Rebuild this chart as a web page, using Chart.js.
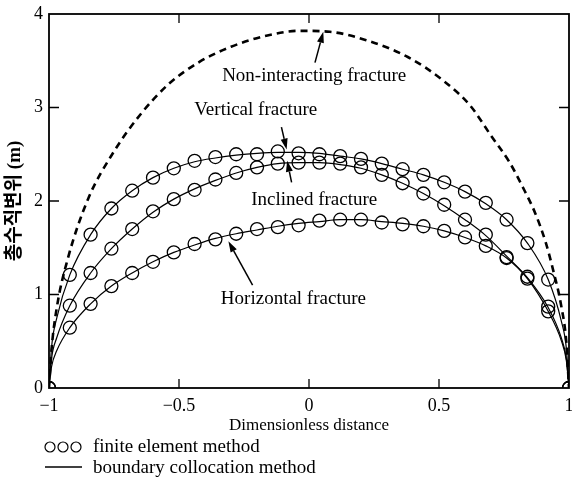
<!DOCTYPE html>
<html>
<head>
<meta charset="utf-8">
<script src="https://cdn.jsdelivr.net/npm/chart.js@4/dist/chart.umd.min.js"></script>
<style>
  html, body { margin: 0; padding: 0; background: #fff; }
</style>
</head>
<body>
<canvas id="myChart" width="572" height="480"></canvas>
<script>
// x positions of the finite element points
const femX = [-1, -0.92, -0.84, -0.76, -0.68, -0.60, -0.52, -0.44, -0.36, -0.28, -0.20, -0.12, -0.04,
              0.04, 0.12, 0.20, 0.28, 0.36, 0.44, 0.52, 0.60, 0.68, 0.76, 0.84, 0.92, 1];
const verticalFem   = [0, 1.21, 1.64, 1.92, 2.11, 2.25, 2.35, 2.43, 2.47, 2.50, 2.50, 2.53, 2.51,
                       2.50, 2.48, 2.45, 2.40, 2.34, 2.28, 2.20, 2.10, 1.98, 1.80, 1.55, 1.16, 0];
const inclinedFem   = [0, 0.88, 1.23, 1.49, 1.70, 1.89, 2.02, 2.12, 2.23, 2.30, 2.36, 2.40, 2.41,
                       2.41, 2.40, 2.36, 2.28, 2.19, 2.08, 1.96, 1.80, 1.64, 1.40, 1.19, 0.87, 0];
const horizontalFem = [0, 0.645, 0.90, 1.09, 1.23, 1.35, 1.45, 1.54, 1.59, 1.65, 1.70, 1.72, 1.74,
                       1.79, 1.80, 1.80, 1.77, 1.75, 1.73, 1.68, 1.61, 1.52, 1.39, 1.17, 0.82, 0];

// boundary collocation curves
const bcmX = [-1, -0.99, -0.97, -0.92, -0.84, -0.76, -0.68, -0.60, -0.52, -0.44, -0.36, -0.28, -0.20, -0.12, -0.04,
              0.04, 0.12, 0.20, 0.28, 0.36, 0.44, 0.52, 0.60, 0.68, 0.76, 0.84, 0.92, 0.97, 0.99, 1];
const verticalBcm   = [0, 0.44, 0.75, 1.21, 1.64, 1.92, 2.11, 2.25, 2.35, 2.42, 2.46, 2.49, 2.51, 2.52, 2.52,
                       2.51, 2.48, 2.45, 2.40, 2.34, 2.28, 2.20, 2.10, 1.97, 1.80, 1.55, 1.16, 0.72, 0.42, 0];
const inclinedBcm   = [0, 0.32, 0.54, 0.88, 1.23, 1.49, 1.70, 1.88, 2.02, 2.13, 2.22, 2.30, 2.36, 2.40, 2.41,
                       2.41, 2.39, 2.35, 2.28, 2.19, 2.08, 1.95, 1.80, 1.63, 1.41, 1.18, 0.86, 0.54, 0.31, 0];
const horizontalBcm = [0, 0.23, 0.40, 0.645, 0.90, 1.09, 1.23, 1.35, 1.45, 1.53, 1.60, 1.65, 1.69, 1.73, 1.76,
                       1.78, 1.80, 1.80, 1.78, 1.76, 1.73, 1.68, 1.61, 1.52, 1.39, 1.17, 0.82, 0.51, 0.29, 0];

// non-interacting fracture (dashed)
const nonX = [-1, -0.99, -0.97, -0.93, -0.85, -0.75, -0.65, -0.54, -0.42, -0.30, -0.16, -0.04, 0.08,
              0.22, 0.38, 0.52, 0.62, 0.70, 0.77, 0.82, 0.87, 0.91, 0.94, 0.97, 0.99, 1];
const nonVals = [0, 0.42, 0.86, 1.36, 2.02, 2.53, 2.92, 3.25, 3.49, 3.65, 3.77, 3.82, 3.81,
                 3.72, 3.54, 3.28, 3.02, 2.70, 2.42, 2.16, 1.87, 1.56, 1.25, 0.88, 0.48, 0];

const xTicks = [-1, -0.5, 0, 0.5, 1];
const yTicks = [0, 1, 2, 3, 4];

const notes = [
  { text: 'Non-interacting fracture', x: 0.02, y: 3.34 },
  { text: 'Vertical fracture', x: -0.205, y: 2.97 },
  { text: 'Inclined fracture', x: 0.02, y: 2.01 },
  { text: 'Horizontal fracture', x: -0.06, y: 0.95 }
];
const arrows = [
  { x1: 0.023, y1: 3.48, x2: 0.055, y2: 3.81 },
  { x1: -0.106, y1: 2.79, x2: -0.086, y2: 2.55 },
  { x1: -0.067, y1: 2.20, x2: -0.084, y2: 2.43 },
  { x1: -0.217, y1: 1.10, x2: -0.31, y2: 1.57 }
];

const serif = "'Liberation Serif', 'Times New Roman', serif";
const pts = (xs, ys) => xs.map((v, i) => ({ x: v, y: ys[i] }));
const fmt = v => (v < 0 ? '\u2212' + Math.abs(v) : String(v));

const lineSet = (data) => ({
  data: data, showLine: true, borderColor: '#000', borderWidth: 1.2,
  pointRadius: 0, cubicInterpolationMode: 'monotone', fill: false
});
const femSet = (data) => ({
  data: data, showLine: false, pointRadius: 6.5, pointBorderWidth: 1.3,
  pointBorderColor: '#000', pointBackgroundColor: 'rgba(0,0,0,0)'
});

const drawArrow = (ctx, x1, y1, x2, y2) => {
  const ang = Math.atan2(y2 - y1, x2 - x1);
  const len = 11, half = 3.5;
  const bx = x2 - len * Math.cos(ang), by = y2 - len * Math.sin(ang);
  ctx.beginPath();
  ctx.moveTo(x1, y1);
  ctx.lineTo(bx, by);
  ctx.stroke();
  ctx.beginPath();
  ctx.moveTo(x2, y2);
  ctx.lineTo(bx + half * Math.sin(ang), by - half * Math.cos(ang));
  ctx.lineTo(bx - half * Math.sin(ang), by + half * Math.cos(ang));
  ctx.closePath();
  ctx.fill();
};

const framePlugin = {
  id: 'frame',
  afterDraw(chart) {
    const { ctx, chartArea: a, scales: { x, y } } = chart;
    ctx.save();
    ctx.strokeStyle = '#000';
    ctx.fillStyle = '#000';
    ctx.lineWidth = 1.8;
    ctx.strokeRect(a.left, a.top, a.right - a.left, a.bottom - a.top);

    // inward ticks
    ctx.lineWidth = 1.3;
    ctx.beginPath();
    xTicks.slice(1, -1).forEach(v => {
      const px = x.getPixelForValue(v);
      ctx.moveTo(px, a.bottom); ctx.lineTo(px, a.bottom - 9);
      ctx.moveTo(px, a.top); ctx.lineTo(px, a.top + 9);
    });
    yTicks.slice(1, -1).forEach(v => {
      const py = y.getPixelForValue(v);
      ctx.moveTo(a.left, py); ctx.lineTo(a.left + 10, py);
      ctx.moveTo(a.right, py); ctx.lineTo(a.right - 10, py);
    });
    ctx.stroke();

    // annotations
    ctx.font = '19px ' + serif;
    ctx.textAlign = 'center';
    ctx.textBaseline = 'middle';
    notes.forEach(n => ctx.fillText(n.text, x.getPixelForValue(n.x), y.getPixelForValue(n.y)));
    ctx.lineWidth = 1.5;
    arrows.forEach(r => drawArrow(ctx,
      x.getPixelForValue(r.x1), y.getPixelForValue(r.y1),
      x.getPixelForValue(r.x2), y.getPixelForValue(r.y2)));

    // legend under the axis
    ctx.textAlign = 'left';
    ctx.lineWidth = 1.2;
    [50, 63, 76].forEach(cx => {
      ctx.beginPath();
      ctx.arc(cx, 447, 5, 0, Math.PI * 2);
      ctx.stroke();
    });
    ctx.fillText('finite element method', 93, 447);
    ctx.lineWidth = 1.6;
    ctx.beginPath();
    ctx.moveTo(45, 467); ctx.lineTo(82, 467);
    ctx.stroke();
    ctx.fillText('boundary collocation method', 93, 468);
    ctx.restore();
  }
};

const ctx = document.getElementById('myChart').getContext('2d');
const chart = new Chart(ctx, {
  type: 'scatter',
  data: {
    datasets: [
      Object.assign(lineSet(pts(nonX, nonVals)), { borderDash: [7, 5], borderWidth: 2.6 }),
      lineSet(pts(bcmX, verticalBcm)),
      lineSet(pts(bcmX, inclinedBcm)),
      lineSet(pts(bcmX, horizontalBcm)),
      femSet(pts(femX, verticalFem)),
      femSet(pts(femX, inclinedFem)),
      femSet(pts(femX, horizontalFem))
    ]
  },
  options: {
    responsive: false,
    animation: false,
    devicePixelRatio: 1,
    layout: { autoPadding: false, padding: { top: 14, right: 3, left: 0, bottom: 0 } },
    plugins: { legend: { display: false }, tooltip: { enabled: false } },
    scales: {
      x: {
        type: 'linear', min: -1, max: 1,
        afterBuildTicks: s => { s.ticks = xTicks.map(v => ({ value: v })); },
        afterFit: s => { s.height = 92; s.paddingLeft = 0; s.paddingRight = 0; },
        grid: { display: false, drawTicks: false },
        border: { display: false },
        ticks: { color: '#000', font: { family: serif, size: 18 }, padding: 7, callback: fmt, maxRotation: 0 },
        title: { display: true, text: 'Dimensionless distance', color: '#000',
                 font: { family: serif, size: 17 }, padding: { top: 0, bottom: 44 } }
      },
      y: {
        min: 0, max: 4,
        afterBuildTicks: s => { s.ticks = yTicks.map(v => ({ value: v })); },
        afterFit: s => { s.width = 49; s.paddingTop = 0; s.paddingBottom = 0; },
        grid: { display: false, drawTicks: false },
        border: { display: false },
        ticks: { color: '#000', font: { family: serif, size: 18 }, padding: 6 },
        title: { display: true, text: '총수직변위 (m)', color: '#000',
                 font: { family: serif + ", 'Noto Sans CJK KR'", size: 19, weight: 'bold' },
                 padding: { top: 4, bottom: 0 } }
      }
    }
  },
  plugins: [framePlugin]
});
</script>
</body>
</html>
